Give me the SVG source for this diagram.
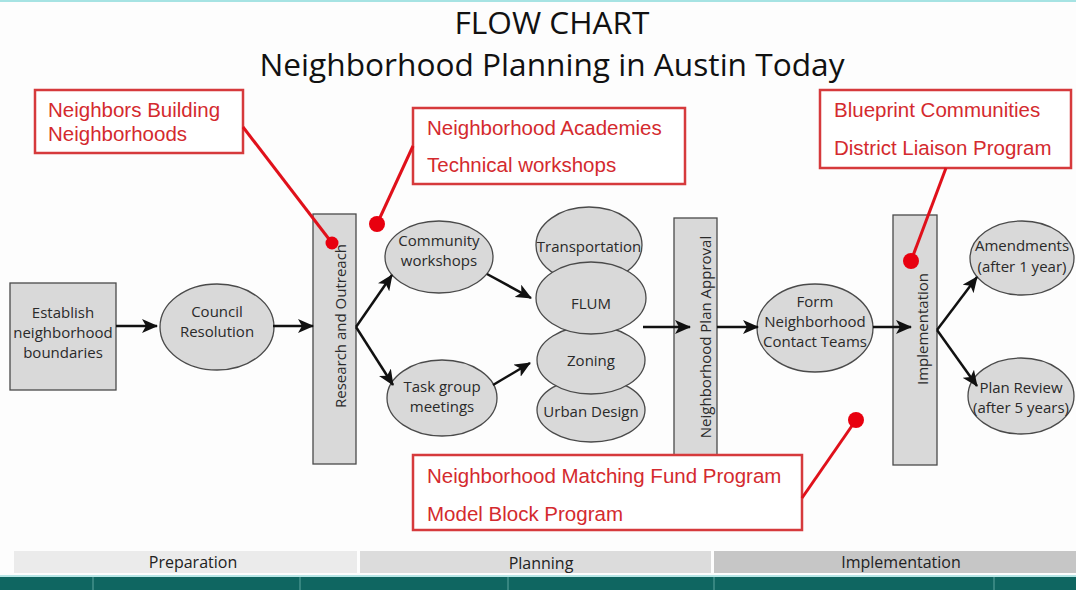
<svg xmlns="http://www.w3.org/2000/svg" width="1076" height="590" viewBox="0 0 1076 590">
<defs>
<marker id="ah" markerUnits="userSpaceOnUse" markerWidth="16" markerHeight="14" viewBox="0 0 16 14" refX="15" refY="7" orient="auto">
<path d="M0,0 L16,7 L0,14 L4,7 z" fill="#111"/>
</marker>
<style>
.node{fill:#d9d9d9;stroke:#4a4a4a;stroke-width:1.3}
.nt{font-family:"Open Sans","Liberation Sans",sans-serif;font-size:15px;fill:#2a2a2a;text-anchor:middle}
.title{font-family:"Open Sans","Liberation Sans",sans-serif;fill:#111;text-anchor:middle}
.cb{fill:#fff;stroke:#d63a3c;stroke-width:2.5}
.ct{font-family:"Liberation Sans",Arial,sans-serif;font-size:20.5px;fill:#d42a2e}
.cl{stroke:#e0111b;stroke-width:3;fill:none}
.dot{fill:#e8000f}
.arr{stroke:#111;stroke-width:2.5;fill:none;marker-end:url(#ah)}
.band{font-family:"Open Sans","Liberation Sans",sans-serif;font-size:16px;fill:#222;text-anchor:middle}
</style>
</defs>
<rect x="0" y="0" width="1076" height="590" fill="#fdfdfd"/>
<rect x="0" y="0" width="1076" height="2" fill="#a6e3e3"/>

<g id="title">
<text class="title" x="552" y="34" font-size="31" textLength="195" lengthAdjust="spacingAndGlyphs">FLOW CHART</text>
<text class="title" x="552" y="76" font-size="31" textLength="585" lengthAdjust="spacingAndGlyphs">Neighborhood Planning in Austin Today</text>
</g>

<g id="n-establish">
<rect class="node" x="10" y="283" width="106" height="107"/>
<text class="nt" x="63" y="318">Establish</text>
<text class="nt" x="63" y="338">neighborhood</text>
<text class="nt" x="63" y="358">boundaries</text>
</g>
<g id="n-council">
<ellipse class="node" cx="217" cy="327" rx="57" ry="43"/>
<text class="nt" x="217" y="317">Council</text>
<text class="nt" x="217" y="337">Resolution</text>
</g>
<g id="n-research">
<rect class="node" x="313" y="214" width="43" height="250"/>
<text class="nt" transform="translate(346,326) rotate(-90)">Research and Outreach</text>
</g>
<g id="n-community">
<ellipse class="node" cx="439" cy="257" rx="54" ry="36"/>
<text class="nt" x="439" y="246">Community</text>
<text class="nt" x="439" y="266">workshops</text>
</g>
<g id="n-task">
<ellipse class="node" cx="442" cy="398" rx="55" ry="38"/>
<text class="nt" x="442" y="392">Task group</text>
<text class="nt" x="442" y="412">meetings</text>
</g>
<g id="n-transportation">
<ellipse class="node" cx="589" cy="245" rx="53" ry="38"/>
<text class="nt" x="589" y="252">Transportation</text>
</g>
<g id="n-urban">
<ellipse class="node" cx="591" cy="410" rx="54" ry="32"/>
<text class="nt" x="591" y="417">Urban Design</text>
</g>
<g id="n-zoning">
<ellipse class="node" cx="591" cy="360" rx="54" ry="34"/>
<text class="nt" x="591" y="366">Zoning</text>
</g>
<g id="n-flum">
<ellipse class="node" cx="591" cy="298" rx="55" ry="36"/>
<text class="nt" x="591" y="309">FLUM</text>
</g>
<g id="n-approval">
<rect class="node" x="674" y="218" width="43" height="250"/>
<text class="nt" transform="translate(711,337) rotate(-90)">Neighborhood Plan Approval</text>
</g>
<g id="n-contact">
<ellipse class="node" cx="815" cy="328" rx="58" ry="44"/>
<text class="nt" x="815" y="307">Form</text>
<text class="nt" x="815" y="327">Neighborhood</text>
<text class="nt" x="815" y="347">Contact Teams</text>
</g>
<g id="n-implementation">
<rect class="node" x="893" y="215" width="44" height="250"/>
<text class="nt" transform="translate(928,329) rotate(-90)">Implementation</text>
</g>
<g id="n-amendments">
<ellipse class="node" cx="1022" cy="258" rx="52" ry="37"/>
<text class="nt" x="1022" y="251">Amendments</text>
<text class="nt" x="1022" y="272">(after 1 year)</text>
</g>
<g id="n-review">
<ellipse class="node" cx="1021" cy="396" rx="53" ry="38"/>
<text class="nt" x="1021" y="393">Plan Review</text>
<text class="nt" x="1021" y="413">(after 5 years)</text>
</g>

<g id="connectors">
<line class="arr" x1="116" y1="326" x2="157" y2="326"/>
<line class="arr" x1="273" y1="326" x2="313" y2="326"/>
<polyline class="arr" points="356,327 392,275"/>
<polyline class="arr" points="356,327 393,385"/>
<line class="arr" x1="487" y1="274" x2="531" y2="298"/>
<line class="arr" x1="493" y1="385" x2="530" y2="363"/>
<line class="arr" x1="643" y1="327" x2="690" y2="327"/>
<line class="arr" x1="717" y1="327" x2="758" y2="327"/>
<line class="arr" x1="873" y1="327" x2="911" y2="327"/>
<line class="arr" x1="937" y1="330" x2="977" y2="277"/>
<line class="arr" x1="937" y1="330" x2="977" y2="386"/>
</g>

<g id="callout-nbn">
<rect class="cb" x="35" y="90" width="208" height="63"/>
<text class="ct" x="48" y="117">Neighbors Building</text>
<text class="ct" x="48" y="141">Neighborhoods</text>
<line class="cl" x1="243" y1="127" x2="332" y2="243"/>
<circle class="dot" cx="332" cy="243" r="6.5"/>
</g>
<g id="callout-academies">
<rect class="cb" x="413" y="108" width="272" height="76"/>
<text class="ct" x="427" y="135">Neighborhood Academies</text>
<text class="ct" x="427" y="172">Technical workshops</text>
<line class="cl" x1="413" y1="146" x2="377" y2="224"/>
<circle class="dot" cx="377" cy="224" r="8"/>
</g>
<g id="callout-blueprint">
<rect class="cb" x="820" y="90" width="251" height="78"/>
<text class="ct" x="834" y="117">Blueprint Communities</text>
<text class="ct" x="834" y="155">District Liaison Program</text>
<line class="cl" x1="946" y1="168" x2="911" y2="261"/>
<circle class="dot" cx="911" cy="261" r="8"/>
</g>
<g id="callout-matching">
<rect class="cb" x="413" y="455" width="389" height="75"/>
<text class="ct" x="427" y="483">Neighborhood Matching Fund Program</text>
<text class="ct" x="427" y="521">Model Block Program</text>
<line class="cl" x1="802" y1="498" x2="856" y2="420"/>
<circle class="dot" cx="856" cy="420" r="8"/>
</g>

<g id="phases">
<rect x="14" y="551" width="343" height="22" fill="#ebebeb"/>
<rect x="360" y="551" width="351" height="22" fill="#dcdcdc"/>
<rect x="714" y="551" width="362" height="22" fill="#c6c6c6"/>
<text class="band" x="193" y="568">Preparation</text>
<text class="band" x="541" y="569">Planning</text>
<text class="band" x="901" y="568">Implementation</text>
<rect x="0" y="575" width="1076" height="2" fill="#b8e6e6"/>
<rect x="0" y="577" width="1076" height="13" fill="#0f6661"/>
<g stroke="#5fa5a0" stroke-width="1">
<line x1="93" y1="577" x2="93" y2="590"/>
<line x1="300" y1="577" x2="300" y2="590"/>
<line x1="508" y1="577" x2="508" y2="590"/>
<line x1="714" y1="577" x2="714" y2="590"/>
<line x1="994" y1="577" x2="994" y2="590"/>
</g>
</g>
</svg>
